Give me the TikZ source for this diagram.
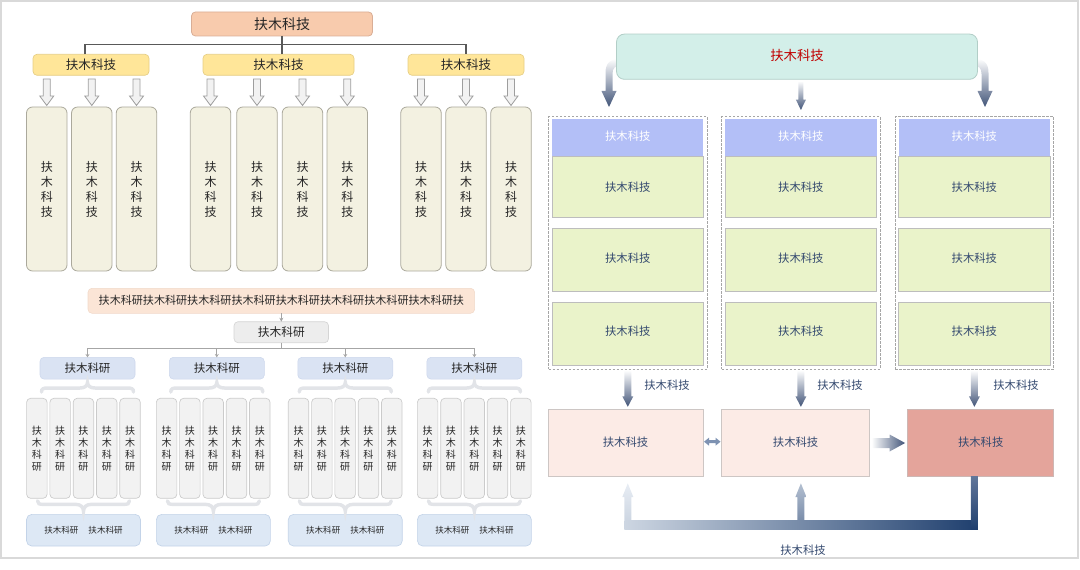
\documentclass[tikz,border=0pt]{standalone}
\usepackage{fontspec}
\setmainfont{Noto Sans CJK SC}
\usetikzlibrary{arrows.meta,calc}
\definecolor{framec}{HTML}{D9D9D9}
\definecolor{peach}{HTML}{F8CBAD}
\definecolor{peachd}{HTML}{D9AE96}
\definecolor{yfill}{HTML}{FFE699}
\definecolor{ydraw}{HTML}{E6CE85}
\definecolor{tallf}{HTML}{F3F1E1}
\definecolor{talld}{HTML}{ABA99C}
\definecolor{harrf}{HTML}{F2F2F2}
\definecolor{harrd}{HTML}{9E9E9E}
\definecolor{connc}{HTML}{595959}
\definecolor{txtc}{HTML}{262626}
\definecolor{barf}{HTML}{FBE5D6}
\definecolor{bard}{HTML}{F1D9C9}
\definecolor{grayf}{HTML}{EDEDED}
\definecolor{grayd}{HTML}{D5D5D5}
\definecolor{gconnc}{HTML}{A6A6A6}
\definecolor{bluef}{HTML}{DAE3F3}
\definecolor{blued}{HTML}{CCD7EC}
\definecolor{sf}{HTML}{F2F2F2}
\definecolor{sd}{HTML}{CBCBCB}
\definecolor{bbf}{HTML}{DDE8F5}
\definecolor{bbd}{HTML}{C3D3E8}
\definecolor{bracec}{HTML}{E2E4E8}
\definecolor{mint}{HTML}{D3EFE9}
\definecolor{mintd}{HTML}{B2CEC7}
\definecolor{hdr}{HTML}{B3BFF7}
\definecolor{grn}{HTML}{EAF3CA}
\definecolor{grnd}{HTML}{BDBDBD}
\definecolor{pinkf}{HTML}{FCEBE6}
\definecolor{pinkd}{HTML}{CDC6C4}
\definecolor{rosef}{HTML}{E4A49B}
\definecolor{rosed}{HTML}{CDB7B4}
\definecolor{navy}{HTML}{1F3F6E}
\definecolor{arrd}{HTML}{415478}
\definecolor{txtb}{HTML}{34496F}
\definecolor{redt}{HTML}{C00000}
\definecolor{dashc}{HTML}{A6A6A6}
\definecolor{dbl}{HTML}{7E92B2}
\definecolor{barl}{HTML}{CDD6E2}
\definecolor{barmid}{HTML}{7386A4}
\definecolor{barm}{HTML}{7A8DAA}
\definecolor{upl}{HTML}{E8EDF4}
\definecolor{upm}{HTML}{B4C0D1}
\definecolor{vtop}{HTML}{61769A}
\tikzset{
  base/.style={inner sep=0pt, outer sep=0pt, align=center},
  sz/.style 2 args={minimum width=#1*0.75pt, minimum height=#2*0.75pt},
  topbox/.style={base, fill=peach, draw=peachd, line width=0.6pt, rounded corners=3pt, text=txtc, font=\fontsize{10.5}{12}\selectfont},
  ybox/.style={base, fill=yfill, draw=ydraw, line width=0.5pt, rounded corners=3pt, text=txtc, font=\fontsize{9.4}{11}\selectfont},
  tallbox/.style={base, fill=tallf, draw=talld, line width=0.6pt, rounded corners=4.5pt, sz={40.5}{164}, text=txtc, font=\fontsize{9}{11.25}\selectfont},
  harrow/.style={fill=harrf, draw=harrd, line width=0.6pt, line join=miter},
  conn/.style={draw=connc, line width=1.1pt},
  barbox/.style={base, fill=barf, draw=bard, line width=0.4pt, rounded corners=3pt, text=txtc, font=\fontsize{8.3}{10}\selectfont},
  graybox/.style={base, fill=grayf, draw=grayd, line width=0.5pt, rounded corners=3pt, text=txtc, font=\fontsize{8.8}{10}\selectfont},
  gconn/.style={draw=gconnc, line width=1.1pt},
  bluebox/.style={base, fill=bluef, draw=blued, line width=0.4pt, rounded corners=3pt, sz={95}{21.7}, text=txtc, font=\fontsize{8.6}{10}\selectfont},
  sbox/.style={base, fill=sf, draw=sd, line width=0.5pt, rounded corners=3pt, sz={20.5}{100}, text=txtc, font=\fontsize{7.5}{9}\selectfont},
  bbox/.style={base, fill=bbf, draw=bbd, line width=0.5pt, rounded corners=4pt, sz={114}{31.7}, text=txtc, font=\fontsize{6.4}{8}\selectfont},
  bracest/.style={draw=bracec, line width=2.6pt, line cap=round},
  rbox/.style={base, font=\fontsize{8.5}{10}\selectfont, text=txtb},
  hdrbox/.style={rbox, fill=hdr, text=white, sz={151.3}{36.7}},
  grnbox/.style={rbox, fill=grn, draw=grnd, line width=0.5pt},
  contbox/.style={base, draw=dashc, line width=0.5pt, dash pattern=on 1.8pt off 1.2pt},
  pbox/.style={rbox, fill=pinkf, draw=pinkd, line width=0.6pt},
  lbl/.style={base, font=\fontsize{8.5}{10}\selectfont, text=txtb}
}
\begin{document}
\begin{tikzpicture}[x=0.75pt,y=-0.75pt]
\useasboundingbox (0,0) rectangle (1080,570);
\draw[framec, line width=1.5pt] (1,1) rectangle (1078,558);

% ---------- left top ----------
\node[topbox, sz={181}{24}] (T0) at (282,24) {扶木科技};
\node[ybox, sz={116}{21}] (Y1) at (91,64.8) {扶木科技};
\node[ybox, sz={151}{21}] (Y2) at (278.5,64.8) {扶木科技};
\node[ybox, sz={116}{21}] (Y3) at (466,64.8) {扶木科技};
\coordinate (hb) at (282,44.5);
\draw[conn] (T0.south) -- (T0.south |- Y2.north);
\draw[conn] ($(Y1.north)+(-6,0)$) |- (hb) -| (Y3.north);

\foreach \x [count=\i] in {46.75,91.8,136.5,210.5,257,302.5,347.3,421,466,511} {
  \node[tallbox] (tb\i) at (\x,189) {扶\\木\\科\\技};
  \begin{scope}[shift={(tb\i.north)}]
    \draw[harrow] (-3.5,-28) -- (3.5,-28) -- (3.5,-11) -- (7,-11) -- (0,-1.5) -- (-7,-11) -- (-3.5,-11) -- cycle;
  \end{scope}
}

% ---------- left bottom ----------
\node[barbox, sz={386.6}{25}] (B) at (281.3,300.8) {扶木科研扶木科研扶木科研扶木科研扶木科研扶木科研扶木科研扶木科研扶};
\node[graybox, sz={94.5}{21}] (G) at (281.3,332.2) {扶木科研};
\draw[gconnc, line width=0.8pt, -{Stealth[length=3pt,width=3pt]}] (B.south) -- (G.north);

\foreach \x [count=\i] in {87.5,216.8,345.3,474.4} {
  \node[bluebox] (L\i) at (\x,368.2) {扶木科研};
  \begin{scope}[shift={(L\i.south)}]
    \draw[bracest] (-46,13) .. controls (-46,9.5) and (-44,9) .. (-40,9) -- (-8,9) .. controls (-3,9) and (0,7) .. (0,3.5) .. controls (0,7) and (3,9) .. (8,9) -- (40,9) .. controls (44,9) and (46,9.5) .. (46,13);
  \end{scope}
}
\coordinate (hb2) at (281.3,348.3);
\draw[gconn] (G.south) -- (G.south |- hb2);
\draw[gconn] (L1.north |- hb2) -- (L4.north |- hb2);
\foreach \i in {1,...,4} {
  \draw[gconnc, line width=0.8pt, -{Stealth[length=2.5pt,width=3pt]}] (L\i.north |- hb2) -- (L\i.north);
}

\foreach \gx [count=\g] in {36.85,166.6,298.55,427.65} {
  \foreach \k in {0,...,4} {
    \node[sbox] (s\g-\k) at ({\gx+23.3*\k},448.3) {扶\\木\\科\\研};
  }
}
\foreach \x [count=\i] in {83.5,213.4,345.3,474.4} {
  \node[bbox] (BB\i) at (\x,530.2) {扶木科研\hspace{7.5pt}扶木科研};
  \begin{scope}[shift={(BB\i.north)}]
    \draw[bracest] (-46,-13.5) .. controls (-46,-10.5) and (-44,-10) .. (-40,-10) -- (-8,-10) .. controls (-3,-10) and (0,-7.5) .. (0,-3) .. controls (0,-7.5) and (3,-10) .. (8,-10) -- (40,-10) .. controls (44,-10) and (46,-10.5) .. (46,-13.5);
  \end{scope}
}

% ---------- right ----------
\coordinate (R0w) at (616.5,56.7);
\coordinate (R0e) at (977.5,56.7);
\begin{scope}[shift={(R0w)}]
  \shade[top color=white, bottom color=arrd] (5.5,1.8) .. controls (-6.5,1.8) and (-11,6.3) .. (-11,16.3) -- (-11,34.3) -- (-15,34.3) -- (-7.5,50.3) -- (0,34.3) -- (-4,34.3) -- (-4,17.3) .. controls (-4,11.3) and (-1.5,8.8) .. (5.5,8.8) -- cycle;
\end{scope}
\begin{scope}[shift={(R0e)}, xscale=-1]
  \shade[top color=white, bottom color=arrd] (5.5,1.8) .. controls (-6.5,1.8) and (-11,6.3) .. (-11,16.3) -- (-11,34.3) -- (-15,34.3) -- (-7.5,50.3) -- (0,34.3) -- (-4,34.3) -- (-4,17.3) .. controls (-4,11.3) and (-1.5,8.8) .. (5.5,8.8) -- cycle;
\end{scope}
\node[base, fill=mint, draw=mintd, line width=0.6pt, rounded corners=6pt, sz={361}{45.3}, text=redt, font=\fontsize{10}{11}\selectfont] (R0) at (797,56.7) {\raisebox{2pt}{扶木科技}};

\foreach \x [count=\i] in {627.8,800.9,974.4} {
  \node[contbox, sz={158.4}{252.6}] (C\i) at (\x,243) {};
  \node[hdrbox] (H\i) at (\x,137.7) {\raisebox{3pt}{扶木科技}};
  \node[grnbox, sz={151.3}{61.7}] (Ga\i) at (\x,186.85) {扶木科技};
  \node[grnbox, sz={151.3}{63}] (Gb\i) at (\x,260.2) {\raisebox{3pt}{扶木科技}};
  \node[grnbox, sz={151.3}{62.7}] (Gc\i) at (\x,333.65) {\raisebox{4pt}{扶木科技}};
}
\begin{scope}[shift={(C2.north)}]
  \shade[top color=white, bottom color=arrd] (-2.5,-35.7) -- (2.5,-35.7) -- (2.5,-17) -- (5,-17) -- (0,-6.7) -- (-5,-17) -- (-2.5,-17) -- cycle;
\end{scope}

\node[pbox, sz={155}{67.4}] (P1) at (625.5,443) {\raisebox{2pt}{扶木科技}};
\node[pbox, sz={148}{67.4}] (P2) at (795.6,443) {\raisebox{2pt}{扶木科技}};
\node[pbox, fill=rosef, draw=rosed, sz={146.3}{67.4}] (P3) at (980.7,443) {\raisebox{2pt}{扶木科技}};

\foreach \i in {1,2,3} {
  \begin{scope}[shift={(C\i.south)}]
    \shade[top color=white, bottom color=arrd] (-3.5,1) -- (3.5,1) -- (3.5,27) -- (5.5,27) -- (0,37.5) -- (-5.5,27) -- (-3.5,27) -- cycle;
  \end{scope}
}
\node[lbl] (lb1) at (667,385) {扶木科技};
\node[lbl] (lb2) at (840,385) {扶木科技};
\node[lbl] (lb3) at (1016,385) {扶木科技};

\begin{scope}[shift={(P1.east)}]
  \fill[dbl] (1,-1.3) -- (6,-5.3) -- (6,-2.8) -- (12.5,-2.8) -- (12.5,-5.3) -- (17.5,-1.3) -- (12.5,2.7) -- (12.5,0.2) -- (6,0.2) -- (6,2.7) -- cycle;
\end{scope}
\begin{scope}[shift={(P2.east)}]
  \shade[left color=white, right color=arrd] (2,-5) -- (20,-5) -- (20,-8.5) -- (35.5,0) -- (20,8.5) -- (20,5) -- (2,5) -- cycle;
\end{scope}

\coordinate (q1) at (C1.south |- P1.south);
\coordinate (q2) at (C2.south |- P2.south);
\coordinate (q3) at (C3.south |- P3.south);
\shade[left color=barl, middle color=barmid, right color=navy] ($(q1)+(-3.5,43.3)$) rectangle ($(q3)+(3.5,52.6)$);
\shade[top color=vtop, bottom color=navy] ($(q3)+(-3.5,0)$) rectangle ($(q3)+(3.5,52.6)$);
\begin{scope}[shift={(q1)}]
  \shade[top color=upl, bottom color=barl] (-3.5,43.5) -- (-3.5,20.3) -- (-5.5,20.3) -- (0,6.6) -- (5.5,20.3) -- (3.5,20.3) -- (3.5,43.5) -- cycle;
\end{scope}
\begin{scope}[shift={(q2)}]
  \shade[top color=upm, bottom color=barm] (-3.5,43.5) -- (-3.5,20.3) -- (-5.5,20.3) -- (0,6.6) -- (5.5,20.3) -- (3.5,20.3) -- (3.5,43.5) -- cycle;
\end{scope}
\node[lbl] (fbl) at (803,550) {扶木科技};
\end{tikzpicture}
\end{document}
